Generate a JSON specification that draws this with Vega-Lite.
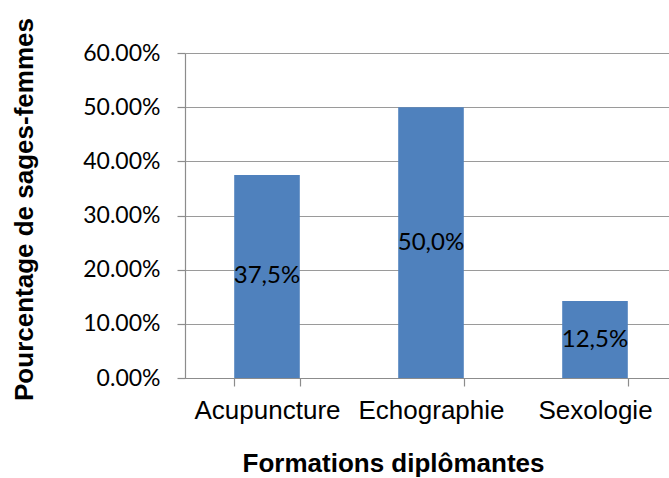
{
  "$schema": "https://vega.github.io/schema/vega-lite/v6.json",
  "autosize": "none",
  "width": 484,
  "height": 325,
  "padding": {"left": 185, "top": 53, "right": 0, "bottom": 100},
  "background": "white",
  "data": {
    "values": [
      {"formation": "Acupuncture", "value": 0.375, "label": "37,5%"},
      {"formation": "Echographie", "value": 0.5, "label": "50,0%"},
      {"formation": "Sexologie", "value": 0.142, "label": "12,5%"}
    ]
  },
  "config": {
    "view": {"stroke": null},
    "axis": {"domainColor": "#8c8c8c", "tickColor": "#8c8c8c", "gridColor": "#9a9a9a", "domainWidth": 1.2, "tickWidth": 1.2, "gridWidth": 1.2}
  },
  "layer": [
    {
      "mark": {"type": "bar", "color": "#4F81BD"},
      "encoding": {
        "x": {
          "field": "formation",
          "type": "nominal",
          "sort": null,
          "scale": {"range": [0, 492], "paddingInner": 0.6, "paddingOuter": 0.3},
          "axis": {
            "title": "Formations diplômantes",
            "titleFont": "Liberation Sans",
            "titleFontSize": 26,
            "titleFontWeight": "bold",
            "titleColor": "#000000",
            "titleX": 208,
            "titleY": 93,
            "titleBaseline": "alphabetic",
            "labelFont": "Liberation Sans",
            "labelFontSize": 26,
            "labelColor": "#000000",
            "labelAngle": 0,
            "labelBaseline": "alphabetic",
            "labelPadding": 32,
            "tickSize": 8,
            "tickBand": "extent",
            "grid": false
          }
        },
        "y": {
          "field": "value",
          "type": "quantitative",
          "scale": {"domain": [0, 0.6]},
          "axis": {
            "title": "Pourcentage de sages-femmes",
            "titleFont": "Liberation Sans",
            "titleFontSize": 26,
            "titleFontWeight": "bold",
            "titleColor": "#000000",
            "titleAngle": -90,
            "titleX": -153,
            "titleY": 156,
            "titleAlign": "center",
            "titleBaseline": "alphabetic",
            "values": [0, 0.1, 0.2, 0.3, 0.4, 0.5, 0.6],
            "format": ".2%",
            "labelFont": "Lato",
            "labelFontSize": 23,
            "labelColor": "#000000",
            "labelPadding": 17,
            "tickSize": 8,
            "grid": true
          }
        }
      }
    },
    {
      "mark": {"type": "text", "font": "Lato", "fontSize": 24, "color": "#000000", "baseline": "middle", "align": "center"},
      "encoding": {
        "x": {"field": "formation", "type": "nominal", "sort": null},
        "y": {"field": "value", "type": "quantitative", "scale": {"domain": [0, 1.2]}, "axis": null},
        "text": {"field": "label"}
      }
    }
  ],
  "resolve": {"scale": {"y": "independent"}}
}
